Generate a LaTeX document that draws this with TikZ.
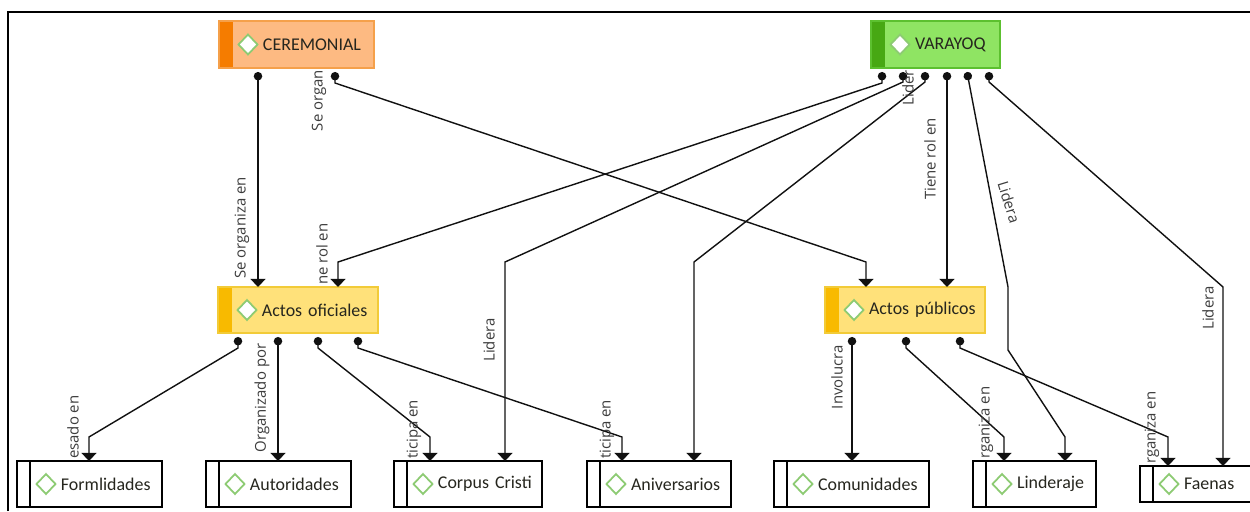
\documentclass[tikz,border=0pt]{standalone}
\usepackage{xcolor}
\usepackage{fontspec}
\usepackage{tikz}
\usetikzlibrary{arrows.meta,calc}
\newfontfamily\boxfont{Carlito}
\newfontfamily\lblfont{Open Sans}
\definecolor{cerfill}{HTML}{FDBA82}
\definecolor{cerline}{HTML}{F5A04A}
\definecolor{cerstripe}{HTML}{F57C00}
\definecolor{varfill}{HTML}{8FE463}
\definecolor{varline}{HTML}{5CC02F}
\definecolor{varstripe}{HTML}{47A813}
\definecolor{actfill}{HTML}{FFE17A}
\definecolor{actline}{HTML}{F2CB38}
\definecolor{actstripe}{HTML}{F8BA00}
\definecolor{icongreen}{HTML}{8DCB73}
\definecolor{boxtext}{HTML}{26261E}
\definecolor{lbltext}{HTML}{3C3C3C}
\definecolor{linkcol}{HTML}{111111}
\newcommand\boxicon{\filldraw[fill=white,draw=icongreen,line width=1pt] ([xshift=0.58cm]path picture bounding box.west) ++(-9.5,0) -- ++(9.5,-10) -- ++(9.5,10) -- ++(-9.5,10) -- cycle;}

\begin{document}
\begin{tikzpicture}[x=0.02cm,y=-0.02cm,
  box/.style={rectangle,draw=#1,line width=0.8pt,anchor=north west,minimum height=0.94cm,inner sep=0pt,outer sep=0pt,align=left,font=\boxfont\fontsize{10.2}{12}\selectfont,text=boxtext,execute at begin node=\hspace*{0.88cm}},
  colbox/.style={box=#1line,fill=#1fill,path picture={\fill[#1stripe] (path picture bounding box.south west) rectangle ([xshift=0.28cm]path picture bounding box.north west); \boxicon}},
  plainbox/.style={box=black,fill=white,path picture={\draw[line width=0.8pt] ([xshift=0.26cm]path picture bounding box.south west) -- ([xshift=0.26cm]path picture bounding box.north west); \boxicon}},
  lbl/.style={font=\lblfont\fontsize{8.5}{10}\selectfont,text=lbltext,inner sep=1pt},
  vlbl/.style={lbl,rotate=90},
  link/.style={draw=linkcol,line width=0.8pt,{Circle[length=4.8pt]}-{Triangle[width=8.5pt,length=4.6pt]}}]
  \useasboundingbox (0,0) rectangle (1250,511);
  \draw[line width=1.4pt] (8,511) -- (8,12) -- (1250,12);

  \node[colbox=cer,text width=3.1cm] (cer) at (219,21) {CEREMONIAL};
  \node[colbox=var,text width=2.58cm] (var) at (871,21) {VARAYOQ};
  \node[colbox=act,text width=3.2cm,minimum height=0.92cm] (aof) at (218,287) {Actos oficiales};
  \node[colbox=act,text width=3.2cm,minimum height=0.92cm] (apu) at (825,287) {Actos públicos};

  \node[plainbox,text width=2.9cm,minimum height=0.92cm] (frm) at (17,461) {Formlidades};
  \node[plainbox,text width=2.9cm,minimum height=0.92cm] (aut) at (206,461) {Autoridades};
  \node[plainbox,text width=2.96cm,minimum height=0.92cm] (cor) at (394,461) {Corpus Cristi};
  \node[plainbox,text width=2.88cm,minimum height=0.92cm] (ani) at (587,461) {Aniversarios};
  \node[plainbox,text width=3.1cm,minimum height=0.92cm] (com) at (774,461) {Comunidades};
  \node[plainbox,text width=2.46cm,minimum height=0.92cm] (lin) at (973,461) {Linderaje};
  \node[plainbox,text width=2.4cm,minimum height=0.72cm] (fae) at (1140,466) {Faenas};

  \draw[link] ($(cer.south west)+(39,4)$) -- ($(aof.north west)+(40,0)$);
  \draw[link] ($(cer.south west)+(116,4)$) -- ++(0,11) -- ($(apu.north west)+(41,-25)$) -- ($(apu.north west)+(41,0)$);

  \draw[link] ($(var.south west)+(11,4)$) -- ++(0,11) -- ($(aof.north west)+(120,-25)$) -- ($(aof.north west)+(120,0)$);
  \draw[link] ($(var.south west)+(32,4)$) -- ++(0,10) -- ($(cor.north west)+(111,-199)$) -- ($(cor.north west)+(111,0)$);
  \draw[link] ($(var.south west)+(54,4)$) -- ++(0,10) -- ($(ani.north west)+(107,-199)$) -- ($(ani.north west)+(107,0)$);
  \draw[link] ($(var.south west)+(76,4)$) -- ($(apu.north west)+(122,0)$);
  \draw[link] ($(var.south west)+(96,4)$) -- ($(lin.north west)+(35,-174)$) -- ($(lin.north west)+(35,-111)$) -- ($(lin.north west)+(92,-24)$) -- ($(lin.north west)+(92,0)$);
  \draw[link] ($(var.south west)+(118,4)$) -- ++(0,10) -- ($(fae.north west)+(83,-179)$) -- ($(fae.north west)+(83,0)$);

  \draw[link] ($(aof.south west)+(20,4)$) -- ++(0,11) -- ($(frm.north west)+(72,-24)$) -- ($(frm.north west)+(72,0)$);
  \draw[link] ($(aof.south west)+(60,4)$) -- ($(aut.north west)+(72,0)$);
  \draw[link] ($(aof.south west)+(100,4)$) -- ++(0,11) -- ($(cor.north west)+(36,-24)$) -- ($(cor.north west)+(36,0)$);
  \draw[link] ($(aof.south west)+(140,4)$) -- ++(0,11) -- ($(ani.north west)+(35,-24)$) -- ($(ani.north west)+(35,0)$);

  \draw[link] ($(apu.south west)+(27,4)$) -- ($(com.north west)+(78,0)$);
  \draw[link] ($(apu.south west)+(81,4)$) -- ++(0,11) -- ($(lin.north west)+(31,-24)$) -- ($(lin.north west)+(31,0)$);
  \draw[link] ($(apu.south west)+(135,4)$) -- ++(0,11) -- ($(fae.north west)+(28,-29)$) -- ($(fae.north west)+(28,0)$);

  \node[vlbl] (l1) at (242,228) {Se organiza en};
  \node[vlbl,anchor=east] (l2) at (319,68) {Se organ};
  \node[vlbl,anchor=west] (l3) at (322,287) {ne rol en};
  \node[vlbl] (l4) at (930,159) {Tiene rol en};
  \node[lbl,rotate=-73] (l5) at (1009,202) {Lidera};
  \node[vlbl] (l6) at (1208,308) {Lidera};
  \node[vlbl,anchor=east] (l7) at (908,68) {Lider};
  \node[vlbl] (l8) at (489,340) {Lidera};
  \node[vlbl,anchor=west] (l9) at (73,461) {esado en};
  \node[vlbl] (l10) at (262,398) {Organizado por};
  \node[vlbl,anchor=west] (l11) at (414,461) {ticipa en};
  \node[vlbl,anchor=west] (l12) at (607,461) {ticipa en};
  \node[vlbl] (l13) at (837,377) {Involucra};
  \node[vlbl,anchor=west] (l14) at (986,461) {rganiza en};
  \node[vlbl,anchor=west] (l15) at (1152,466) {rganiza en};
\end{tikzpicture}
\end{document}
